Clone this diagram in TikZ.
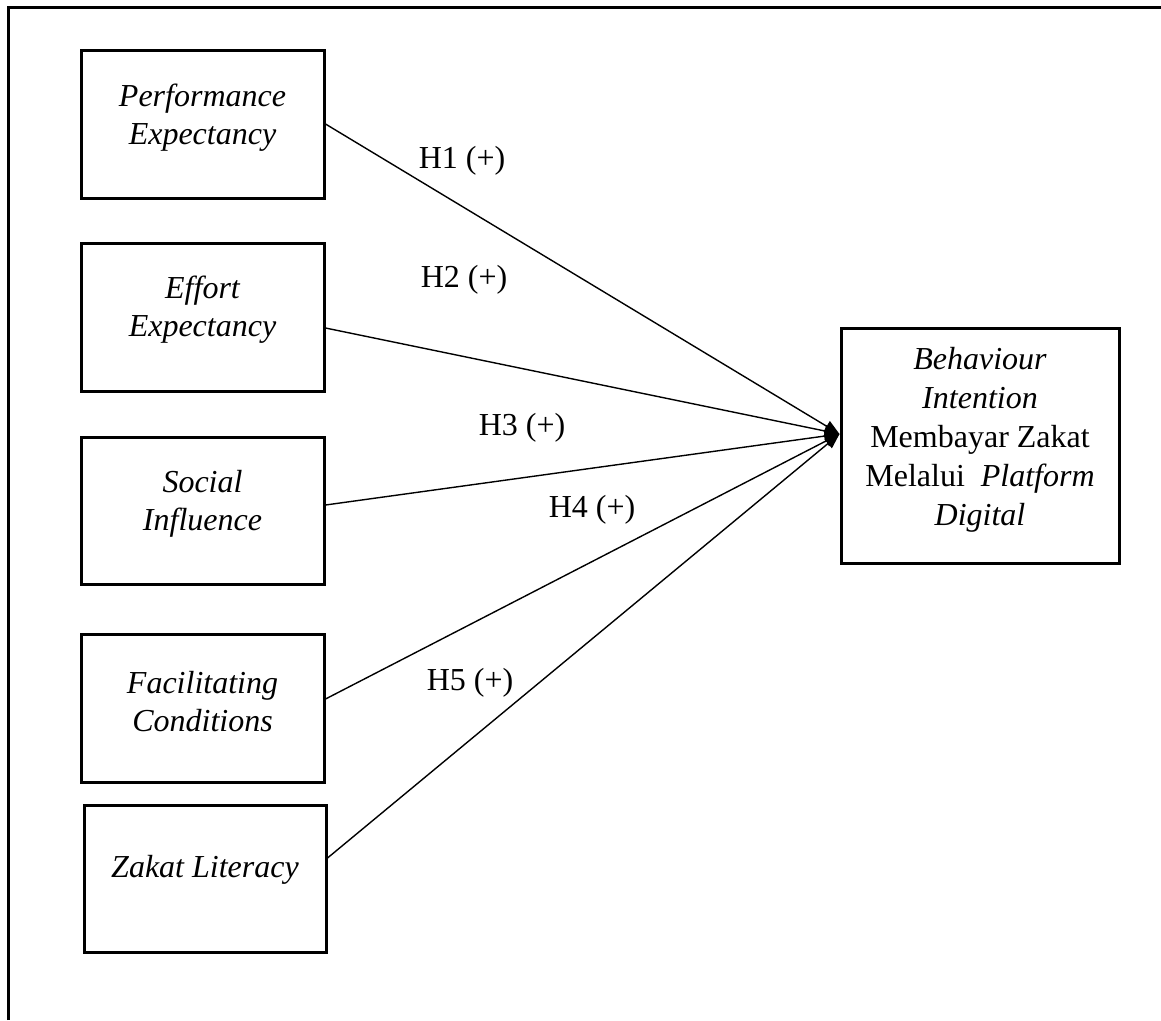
\documentclass[tikz,border=0pt]{standalone}
\usepackage{fontspec}
\setmainfont{Liberation Serif}
\usetikzlibrary{arrows.meta}
\tikzset{
  box/.style={draw, line width=3pt, minimum width=243pt, minimum height=148pt, inner sep=0pt},
  btxt/.style={align=center, inner sep=0pt, font=\fontsize{32}{38}\selectfont\itshape},
  ttxt/.style={align=center, inner sep=0pt, font=\fontsize{32}{39}\selectfont},
  hlab/.style={inner sep=0pt, anchor=base, font=\fontsize{32}{38}\selectfont},
  conn/.style={line width=1.4pt, -{Triangle[length=15pt,width=12pt]}},
  frame/.style={line width=3pt}
}
\begin{document}
\begin{tikzpicture}[x=1pt,y=-1pt]
\useasboundingbox (0,0) rectangle (1161,1020);
\draw[frame] (8,1020) -- (8,7) -- (1161,7);

\node[box] (pe) at (202.5,124) {};
\node[box] (ee) at (202.5,317) {};
\node[box, minimum height=147pt] (si) at (202.5,510.5) {};
\node[box] (fc) at (202.5,708) {};
\node[box, minimum width=242pt, minimum height=147pt] (zl) at (205,878.5) {};
\node[box, minimum width=278pt, minimum height=235pt] (bi) at (980,445.5) {};

\node[btxt] (pet) at (202.5,118) {Performance\\Expectancy};
\node[btxt] (eet) at (202.5,310) {Effort\\Expectancy};
\node[btxt] (sit) at (202.5,503.5) {Social\\Influence};
\node[btxt] (fct) at (202.5,701.5) {Facilitating\\Conditions};
\node[btxt, anchor=base] (zlt) at (205,877) {Zakat Literacy};
\node[ttxt] (bit) at (980,440) {\textit{Behaviour}\\\textit{Intention}\\Membayar Zakat\\Melalui \ \textit{Platform}\\\textit{Digital}};

\coordinate (tip) at ([yshift=11.5pt]bi.west);

\draw[conn] (pe.east) -- (tip);
\draw[conn] ([yshift=-11pt]ee.east) -- (tip);
\draw[conn] ([yshift=5.5pt]si.east) -- (tip);
\draw[conn] ([yshift=9pt]fc.east) -- (tip);
\draw[conn] ([yshift=20.5pt]zl.east) -- (tip);

\node[hlab] (h1) at (462,168) {H1 (+)};
\node[hlab] (h2) at (464,287) {H2 (+)};
\node[hlab] (h3) at (522,435) {H3 (+)};
\node[hlab] (h4) at (592,517) {H4 (+)};
\node[hlab] (h5) at (470,690) {H5 (+)};
\end{tikzpicture}
\end{document}
